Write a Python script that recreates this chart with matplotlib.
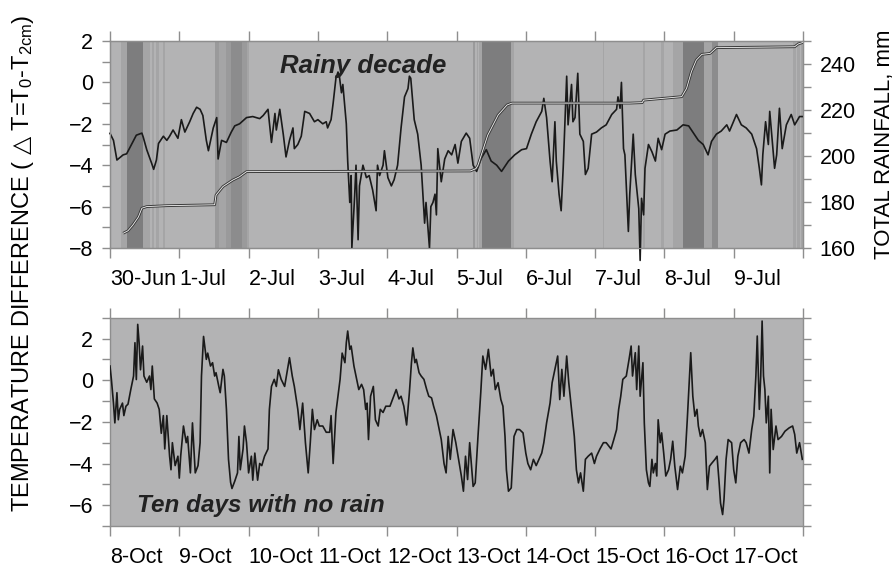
import matplotlib
matplotlib.use("Agg")
import matplotlib.pyplot as plt
import numpy as np

plt.rcParams['font.family'] = ['Liberation Sans', 'DejaVu Sans']
plt.rcParams['mathtext.fontset'] = 'dejavusans'
plt.rcParams['mathtext.default'] = 'regular'

# ---- data: rainy decade (days since 30-Jun 00:00) ----
rain_days = [0.00, 0.05, 0.10, 0.19, 0.24, 0.31, 0.38, 0.46, 0.48, 0.53, 0.60, 0.63, 0.67, 0.70,
             0.77, 0.82, 0.86, 0.91, 0.98, 1.03, 1.08, 1.15, 1.20, 1.25, 1.30, 1.34, 1.39, 1.42,
             1.49, 1.54, 1.56, 1.61, 1.68, 1.75, 1.80, 1.87, 1.97, 2.06, 2.16, 2.21, 2.28, 2.33,
             2.38, 2.40, 2.45, 2.50, 2.54, 2.59, 2.64, 2.66, 2.71, 2.76, 2.81, 2.88, 2.95, 3.00,
             3.07, 3.12, 3.14, 3.19, 3.22, 3.26, 3.29, 3.31, 3.34, 3.36, 3.41, 3.43, 3.46, 3.48,
             3.49, 3.53, 3.55, 3.58, 3.60, 3.65, 3.70, 3.74, 3.79, 3.84, 3.86, 3.89, 3.94, 3.96,
             4.01, 4.06, 4.10, 4.15, 4.20, 4.25, 4.30, 4.32, 4.34, 4.39, 4.44, 4.49, 4.54, 4.56,
             4.61, 4.63, 4.66, 4.69, 4.71, 4.73, 4.78, 4.83, 4.88, 4.93, 4.98, 5.02, 5.07, 5.14,
             5.19, 5.24, 5.29, 5.36, 5.43, 5.50, 5.58, 5.65, 5.75, 5.84, 5.94, 6.01, 6.08, 6.15,
             6.23, 6.26, 6.30, 6.35, 6.38, 6.42, 6.44, 6.48, 6.51, 6.54, 6.59, 6.61, 6.66, 6.68,
             6.71, 6.75, 6.78, 6.83, 6.86, 6.90, 6.95, 7.02, 7.09, 7.16, 7.24, 7.31, 7.33, 7.36,
             7.38, 7.41, 7.43, 7.48, 7.50, 7.55, 7.58, 7.63, 7.65, 7.67, 7.70, 7.72, 7.77, 7.82,
             7.87, 7.91, 7.96, 8.01, 8.08, 8.18, 8.27, 8.35, 8.42, 8.49, 8.56, 8.63, 8.68, 8.75,
             8.82, 8.90, 8.94, 9.04, 9.11, 9.18, 9.26, 9.33, 9.37, 9.40, 9.42, 9.46, 9.50, 9.52,
             9.56, 9.59, 9.62, 9.66, 9.70, 9.76, 9.83, 9.88, 9.95, 9.99]
rain_dt = [-2.46, -2.8, -3.75, -3.5, -3.45, -3.0, -2.55, -2.45, -2.65, -3.25, -3.9, -4.2, -3.75, -2.95,
           -2.6, -2.8, -2.6, -2.3, -2.7, -1.8, -2.4, -1.9, -1.5, -1.2, -1.3, -1.6, -2.8, -3.3,
           -2.2, -1.7, -3.7, -2.8, -2.9, -2.4, -2.1, -2.0, -1.7, -1.65, -1.75, -1.6, -1.3, -2.9,
           -1.5, -2.3, -1.3, -2.5, -3.6, -2.8, -2.2, -3.2, -3.0, -2.6, -1.4, -1.5, -1.9, -1.8,
           -2.0, -1.9, -2.2, -1.8, -1.0, 0.2, 0.5, 0.3, -0.5, -0.1, -2.0, -3.8, -5.8, -4.5,
           -8.0, -5.5, -4.0, -7.6, -5.0, -4.0, -4.6, -4.5, -5.2, -6.2, -4.0, -4.5, -4.0, -3.3,
           -4.6, -5.0, -4.7, -4.0, -2.2, -0.7, -0.3, 0.3, 0.2, -1.8, -2.5, -4.0, -6.8, -5.8,
           -8.0, -6.0, -5.8, -5.4, -6.4, -3.2, -4.8, -3.7, -3.3, -3.5, -3.0, -3.9, -2.85, -2.45,
           -2.7, -4.0, -4.3, -3.65, -3.25, -3.8, -4.0, -4.3, -3.8, -3.5, -3.25, -3.2, -2.5, -1.9,
           -1.4, -0.77, -1.7, -3.8, -4.8, -1.9, -3.8, -5.4, -6.2, -4.1, 0.3, -2.05, -0.1, -1.9,
           -1.7, 0.44, -2.5, -2.85, -4.45, -4.15, -2.5, -2.4, -2.2, -2.05, -1.55, -1.3, -0.7, -1.25,
           0.0, -3.2, -3.5, -7.2, -5.4, -2.5, -4.45, -6.1, -8.6, -5.6, -6.4, -4.15, -3.0, -3.35,
           -3.8, -2.7, -3.25, -2.5, -2.35, -2.3, -2.05, -2.1, -2.45, -2.8, -3.0, -3.5, -2.85, -2.5,
           -2.35, -2.05, -2.35, -1.55, -2.05, -2.2, -2.5, -3.2, -4.15, -4.95, -3.5, -1.9, -3.0, -1.4,
           -3.0, -4.15, -3.5, -1.25, -3.2, -2.05, -1.55, -2.05, -1.65, -1.65]

total_days = [0.19, 0.26, 0.33, 0.41, 0.46, 0.53, 0.82, 1.51, 1.53, 1.63, 1.77, 1.87, 1.97, 5.20,
              5.28, 5.31, 5.45, 5.60, 5.73, 5.80, 7.50, 7.68, 7.70, 8.25, 8.32, 8.39, 8.46, 8.54,
              8.66, 8.75, 9.88, 9.93, 10.0]
total_mm = [166.4, 167.5, 170.0, 173.5, 177.3, 178.0, 178.4, 178.8, 183.0, 186.7, 189.5, 191.0, 193.2, 193.5,
            194.5, 196.0, 209.0, 217.8, 222.2, 223.0, 223.0, 223.2, 224.3, 225.8, 229.4, 236.7, 241.7, 244.2,
            244.6, 247.1, 247.5, 248.7, 249.4]

# rain periods (shaded bands): start, end, intensity level 0..3
band_start = [0.155, 0.24, 0.48, 0.61, 0.66, 0.76, 1.51, 1.58, 1.68, 1.75, 1.90, 1.97, 5.24, 5.29,
              5.32, 5.37, 5.79, 7.11, 7.69, 7.95, 8.13, 8.27, 8.57, 8.68, 9.86, 9.92, 9.97]
band_end = [0.24, 0.48, 0.58, 0.63, 0.71, 0.80, 1.58, 1.68, 1.75, 1.90, 1.97, 2.01, 5.27, 5.31,
            5.37, 5.79, 5.83, 7.13, 7.72, 7.99, 8.27, 8.57, 8.68, 8.78, 9.90, 9.95, 10.0]
band_level = [0, 3, 0, 0, 0, 0, 1, 0, 1, 2, 1, 0, 1, 0,
              0, 3, 0, 0, 0, 0, 0, 3, 0, 2, 0, 0, 0]

# ---- data: dry decade (days since 8-Oct 00:00) ----
dry_days = [0.00, 0.02, 0.05, 0.07, 0.10, 0.12, 0.14, 0.18, 0.20, 0.23, 0.26, 0.30, 0.34, 0.36,
            0.38, 0.40, 0.42, 0.44, 0.47, 0.49, 0.53, 0.57, 0.59, 0.61, 0.64, 0.68, 0.71, 0.74,
            0.77, 0.79, 0.82, 0.86, 0.88, 0.90, 0.94, 0.98, 1.00, 1.02, 1.06, 1.10, 1.12, 1.16,
            1.19, 1.23, 1.27, 1.30, 1.32, 1.35, 1.39, 1.41, 1.45, 1.48, 1.51, 1.53, 1.57, 1.59,
            1.63, 1.65, 1.68, 1.71, 1.74, 1.76, 1.80, 1.84, 1.86, 1.88, 1.92, 1.94, 1.97, 2.00,
            2.04, 2.06, 2.09, 2.13, 2.16, 2.19, 2.23, 2.28, 2.30, 2.33, 2.37, 2.40, 2.43, 2.47,
            2.52, 2.59, 2.63, 2.66, 2.71, 2.74, 2.78, 2.82, 2.86, 2.89, 2.92, 2.95, 2.99, 3.02,
            3.07, 3.12, 3.17, 3.19, 3.22, 3.26, 3.29, 3.32, 3.35, 3.39, 3.41, 3.43, 3.46, 3.48,
            3.52, 3.55, 3.59, 3.63, 3.66, 3.69, 3.71, 3.73, 3.76, 3.80, 3.83, 3.87, 3.90, 3.94,
            3.98, 4.04, 4.08, 4.13, 4.17, 4.20, 4.24, 4.28, 4.32, 4.35, 4.37, 4.40, 4.42, 4.46,
            4.49, 4.53, 4.57, 4.60, 4.64, 4.67, 4.71, 4.75, 4.78, 4.82, 4.85, 4.88, 4.91, 4.95,
            4.99, 5.03, 5.07, 5.10, 5.13, 5.16, 5.19, 5.22, 5.24, 5.27, 5.31, 5.35, 5.38, 5.42,
            5.46, 5.50, 5.53, 5.56, 5.60, 5.64, 5.67, 5.70, 5.72, 5.75, 5.79, 5.83, 5.87, 5.91,
            5.96, 6.00, 6.03, 6.07, 6.11, 6.15, 6.19, 6.23, 6.26, 6.30, 6.35, 6.38, 6.42, 6.46,
            6.49, 6.52, 6.55, 6.59, 6.62, 6.66, 6.70, 6.73, 6.76, 6.79, 6.83, 6.86, 6.90, 6.95,
            6.99, 7.02, 7.07, 7.12, 7.16, 7.23, 7.27, 7.31, 7.34, 7.37, 7.40, 7.45, 7.49, 7.52,
            7.54, 7.58, 7.60, 7.63, 7.65, 7.69, 7.71, 7.74, 7.77, 7.79, 7.82, 7.84, 7.87, 7.89,
            7.91, 7.94, 7.96, 7.99, 8.02, 8.06, 8.09, 8.12, 8.15, 8.19, 8.23, 8.26, 8.30, 8.33,
            8.35, 8.38, 8.41, 8.44, 8.47, 8.49, 8.52, 8.55, 8.59, 8.62, 8.65, 8.68, 8.73, 8.76,
            8.79, 8.81, 8.84, 8.86, 8.89, 8.92, 8.97, 9.00, 9.03, 9.06, 9.10, 9.15, 9.18, 9.22,
            9.26, 9.29, 9.32, 9.34, 9.37, 9.39, 9.41, 9.43, 9.45, 9.47, 9.50, 9.52, 9.54, 9.57,
            9.61, 9.64, 9.69, 9.74, 9.80, 9.85, 9.88, 9.91, 9.95, 9.99]
dry_dt = [0.68, 0.04, -1.1, -2.05, -0.6, -1.9, -1.4, -1.1, -1.7, -1.25, -1.15, -0.45, 0.2, 1.8,
          0.03, 2.68, 1.8, 0.5, 1.64, 0.2, -0.1, 0.2, -0.45, 0.68, -0.9, -1.1, -1.4, -2.55,
          -1.7, -3.3, -1.7, -3.65, -4.3, -3.0, -4.1, -3.65, -4.7, -3.65, -2.2, -3.0, -2.7, -4.45,
          -2.05, -4.45, -4.1, -3.0, 0.2, 2.1, 1.0, 1.3, 0.68, 0.84, 0.2, 0.36, -0.3, -0.6,
          0.52, 0.2, -1.4, -3.8, -4.9, -5.2, -4.85, -4.45, -2.7, -4.3, -3.3, -2.2, -3.0, -4.45,
          -3.65, -4.8, -3.5, -4.8, -4.0, -4.1, -3.65, -3.3, -1.4, -0.3, 0.04, -0.3, 0.5, 0.04,
          -0.3, 1.08, 0.2, -0.3, -1.4, -2.37, -1.1, -3.0, -4.45, -3.0, -1.4, -2.37, -1.9, -2.2,
          -2.2, -2.5, -2.5, -1.7, -4.0, -1.55, -0.77, 0.04, 1.3, 0.84, 1.8, 2.36, 1.48, 1.64,
          0.68, 0.2, -0.45, -0.2, -0.45, -1.4, -1.1, -2.85, -0.77, -0.3, -1.9, -2.2, -1.4, -1.55,
          -1.25, -1.25, -0.9, -0.45, -0.9, -0.77, -1.25, -2.15, -0.6, 0.84, 1.55, 0.84, 1.0, 0.36,
          0.2, 0.04, -0.45, -0.77, -0.85, -1.25, -1.7, -2.37, -2.85, -4.0, -4.45, -2.7, -3.8, -2.37,
          -3.0, -3.8, -4.6, -5.33, -3.65, -4.77, -3.0, -4.3, -5.1, -4.93, -2.7, -0.6, 1.16, 0.52,
          1.48, 0.2, 0.52, -0.45, -0.12, -0.93, -1.25, -2.7, -4.3, -5.33, -5.17, -2.7, -2.37, -2.37,
          -2.53, -3.5, -4.0, -4.3, -3.8, -4.1, -3.8, -3.5, -3.0, -2.05, -1.1, -0.12, 0.52, 1.16,
          -0.93, 0.52, -0.77, 1.16, -0.12, -1.4, -2.7, -4.3, -4.93, -4.45, -5.33, -3.8, -3.65, -3.5,
          -4.0, -3.65, -3.3, -3.0, -3.0, -3.3, -2.85, -2.37, -1.4, -0.77, 0.04, 0.2, 1.0, 1.64,
          0.2, 1.32, -0.45, 1.64, -0.77, 0.84, -2.05, -4.3, -4.93, -5.1, -3.8, -4.45, -4.0, -4.6,
          -1.9, -3.0, -2.53, -3.5, -4.6, -4.3, -3.8, -2.93, -4.13, -5.25, -4.13, -4.45, -3.65, -1.9,
          -0.6, 1.32, -0.77, -1.73, -1.4, -2.2, -2.7, -2.37, -3.0, -5.25, -4.13, -4.0, -3.8, -3.65,
          -4.93, -5.9, -6.45, -5.73, -3.8, -2.85, -3.0, -4.3, -4.93, -3.65, -3.0, -2.85, -3.0, -3.5,
          -2.37, -1.73, 0.2, 2.12, -1.4, 0.2, 2.84, 0.2, -0.45, -2.05, -0.77, -4.45, -1.4, -3.33,
          -2.2, -2.85, -2.7, -2.45, -2.29, -2.2, -2.6, -3.5, -3.0, -3.8]

jul_labels = ['30-Jun', '1-Jul', '2-Jul', '3-Jul', '4-Jul', '5-Jul', '6-Jul', '7-Jul', '8-Jul', '9-Jul', '']
oct_labels = ['8-Oct', '9-Oct', '10-Oct', '11-Oct', '12-Oct', '13-Oct', '14-Oct', '15-Oct', '16-Oct', '17-Oct', '']

bg = '#b3b3b4'
band_colors = ['#a5a5a6', '#9a9a9b', '#8c8c8d', '#7d7d7e']
frame = '#8e8e8e'
fs = 15.5

fig = plt.figure(figsize=(8.94, 5.68), dpi=100)
ax1 = fig.add_axes([110 / 894, 1 - 248 / 568, 693 / 894, 207 / 568])
ax2 = fig.add_axes([110 / 894, 1 - 526 / 568, 693 / 894, 208.3 / 568])


def style_axes(ax, labels, right_ticks):
    ax.set_facecolor(bg)
    ax.set_xlim(0, 10)
    ax.set_xticks(np.arange(11))
    ax.set_xticklabels(labels)
    for t in ax.get_xticklabels():
        t.set_horizontalalignment('left')
    for s in ax.spines.values():
        s.set_color(frame)
        s.set_linewidth(1.0)
    ax.tick_params(axis='x', which='major', direction='out', length=7, width=1,
                   color=frame, top=True, bottom=True, labelsize=fs, pad=8)
    ax.tick_params(axis='y', which='major', direction='out', length=6, width=1,
                   color=frame, labelsize=fs, pad=6, right=right_ticks)
    ax.tick_params(axis='y', which='minor', direction='out', length=6, width=1,
                   color=frame, right=right_ticks)


# top panel: rainy decade
for s, e, lv in zip(band_start, band_end, band_level):
    ax1.axvspan(s, e, color=band_colors[lv], lw=0, zorder=0.5)
ax1.plot(rain_days, rain_dt, color='#1a1a1a', lw=1.2, clip_on=False, zorder=3)
ax1.set_ylim(-8, 2)
ax1.set_yticks(np.arange(-8, 3, 2))
ax1.set_yticks(np.arange(-7, 2, 2), minor=True)
ax1.set_yticklabels(['\u22128', '\u22126', '\u22124', '\u22122', '0', '2'])
style_axes(ax1, jul_labels, False)
ax1.text(0.245, 0.845, 'Rainy decade', transform=ax1.transAxes, fontsize=18.5,
         fontweight='bold', fontstyle='italic', color='#222222', ha='left', va='baseline')

ax1r = ax1.twinx()
ax1r.plot(total_days, total_mm, color='#3a3a3a', lw=2.0, solid_capstyle='butt')
ax1r.plot(total_days, total_mm, color='#f4f4f4', lw=0.6, solid_capstyle='butt')
ax1r.set_ylim(160, 250)
ax1r.set_yticks(np.arange(160, 241, 20))
ax1r.set_yticks(np.arange(170, 251, 20), minor=True)
for s in ax1r.spines.values():
    s.set_color(frame)
ax1r.tick_params(axis='y', which='both', direction='out', length=6, width=1,
                 color=frame, labelsize=fs, pad=6)
ax1r.set_ylabel('TOTAL RAINFALL, mm', fontsize=16, labelpad=13)

# bottom panel: dry decade
ax2.plot(dry_days, dry_dt, color='#1a1a1a', lw=1.2, zorder=3)
ax2.set_ylim(-7, 3)
ax2.set_yticks(np.arange(-6, 3, 2))
ax2.set_yticks(np.arange(-7, 4, 2), minor=True)
ax2.set_yticklabels(['\u22126', '\u22124', '\u22122', '0', '2'])
style_axes(ax2, oct_labels, True)
ax2.text(0.039, 0.067, 'Ten days with no rain', transform=ax2.transAxes, fontsize=17.5,
         fontweight='bold', fontstyle='italic', color='#222222', ha='left', va='baseline')

fig.text(23 / 894, 1 - 263 / 568,
         'TEMPERATURE DIFFERENCE ( $\\mathrm{\u25b3}$ T=T$_0$-T$_{2cm}$)',
         rotation=90, fontsize=17, ha='center', va='center')

fig.savefig('out.png', dpi=100)
